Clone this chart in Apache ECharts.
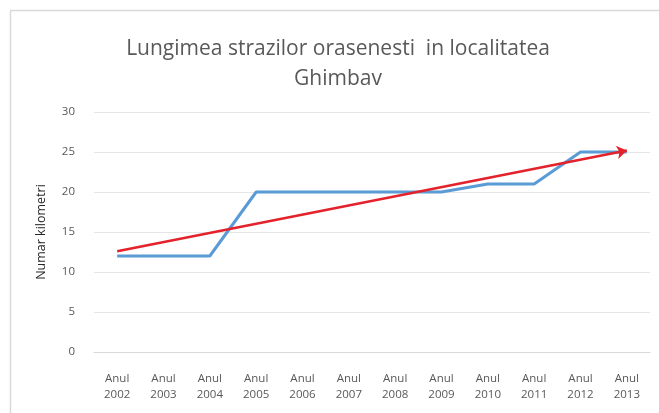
<!DOCTYPE html>
<html><head><meta charset="utf-8">
<script src="https://cdn.jsdelivr.net/npm/echarts@6/dist/echarts.min.js"></script>
<style>html,body{margin:0;padding:0;background:#fff}#c{width:659px;height:413px}</style>
</head><body><div id="c"></div>
<script>
var categories = ['Anul\n2002','Anul\n2003','Anul\n2004','Anul\n2005','Anul\n2006','Anul\n2007','Anul\n2008','Anul\n2009','Anul\n2010','Anul\n2011','Anul\n2012','Anul\n2013'];
var kilometri = [12,12,12,20,20,20,20,20,21,21,25,25];
var trendStart = 12.6;
var trendEnd = 25.2;
var yTicks = {min:0, max:30, interval:5};

var chart = echarts.init(document.getElementById('c'));
chart.setOption({
  animation:false,
  backgroundColor:'#fff',
  graphic:[
    {type:'line', shape:{x1:10.5,y1:11,x2:10.5,y2:413}, style:{stroke:'#d9d9d9',lineWidth:1.5}},
    {type:'line', shape:{x1:10,y1:10.5,x2:659,y2:10.5}, style:{stroke:'#d9d9d9',lineWidth:1.5}}
  ],
  title:{
    text:'Lungimea strazilor orasenesti  in localitatea\nGhimbav',
    left:333, top:29, textAlign:'center',
    textStyle:{fontFamily:'Open Sans', fontSize:21, fontWeight:'normal', color:'#595959', lineHeight:30}
  },
  grid:{left:94, right:9, top:112, bottom:61},
  xAxis:{
    type:'category', data:categories, boundaryGap:true,
    axisLine:{show:true, lineStyle:{color:'#d9d9d9'}},
    axisTick:{show:false},
    axisLabel:{interval:0, color:'#595959', fontFamily:'Open Sans', fontSize:11.5, lineHeight:16, margin:19}
  },
  yAxis:{
    type:'value', min:yTicks.min, max:yTicks.max, interval:yTicks.interval,
    name:'Numar kilometri', nameLocation:'middle', nameGap:46, nameRotate:90,
    nameTextStyle:{color:'#262626', fontFamily:'Open Sans', fontSize:12.5},
    axisLine:{show:false}, axisTick:{show:false},
    axisLabel:{color:'#595959', fontFamily:'Open Sans', fontSize:11.5, margin:19},
    splitLine:{lineStyle:{color:'#e6e6e6', width:1}}
  },
  series:[
    {type:'line', data:kilometri, symbol:'none', lineStyle:{color:'#5b9bd5', width:3}, z:2},
    {type:'line', data:[], symbol:'none', z:3,
      markLine:{
        silent:true, symbol:['none','arrow'], symbolSize:10,
        label:{show:false},
        lineStyle:{color:'#e3222b', width:2.5, type:'solid'},
        data:[[{coord:[categories[0], trendStart]},{coord:[categories[categories.length-1], trendEnd]}]]
      }
    }
  ]
});
</script></body></html>
